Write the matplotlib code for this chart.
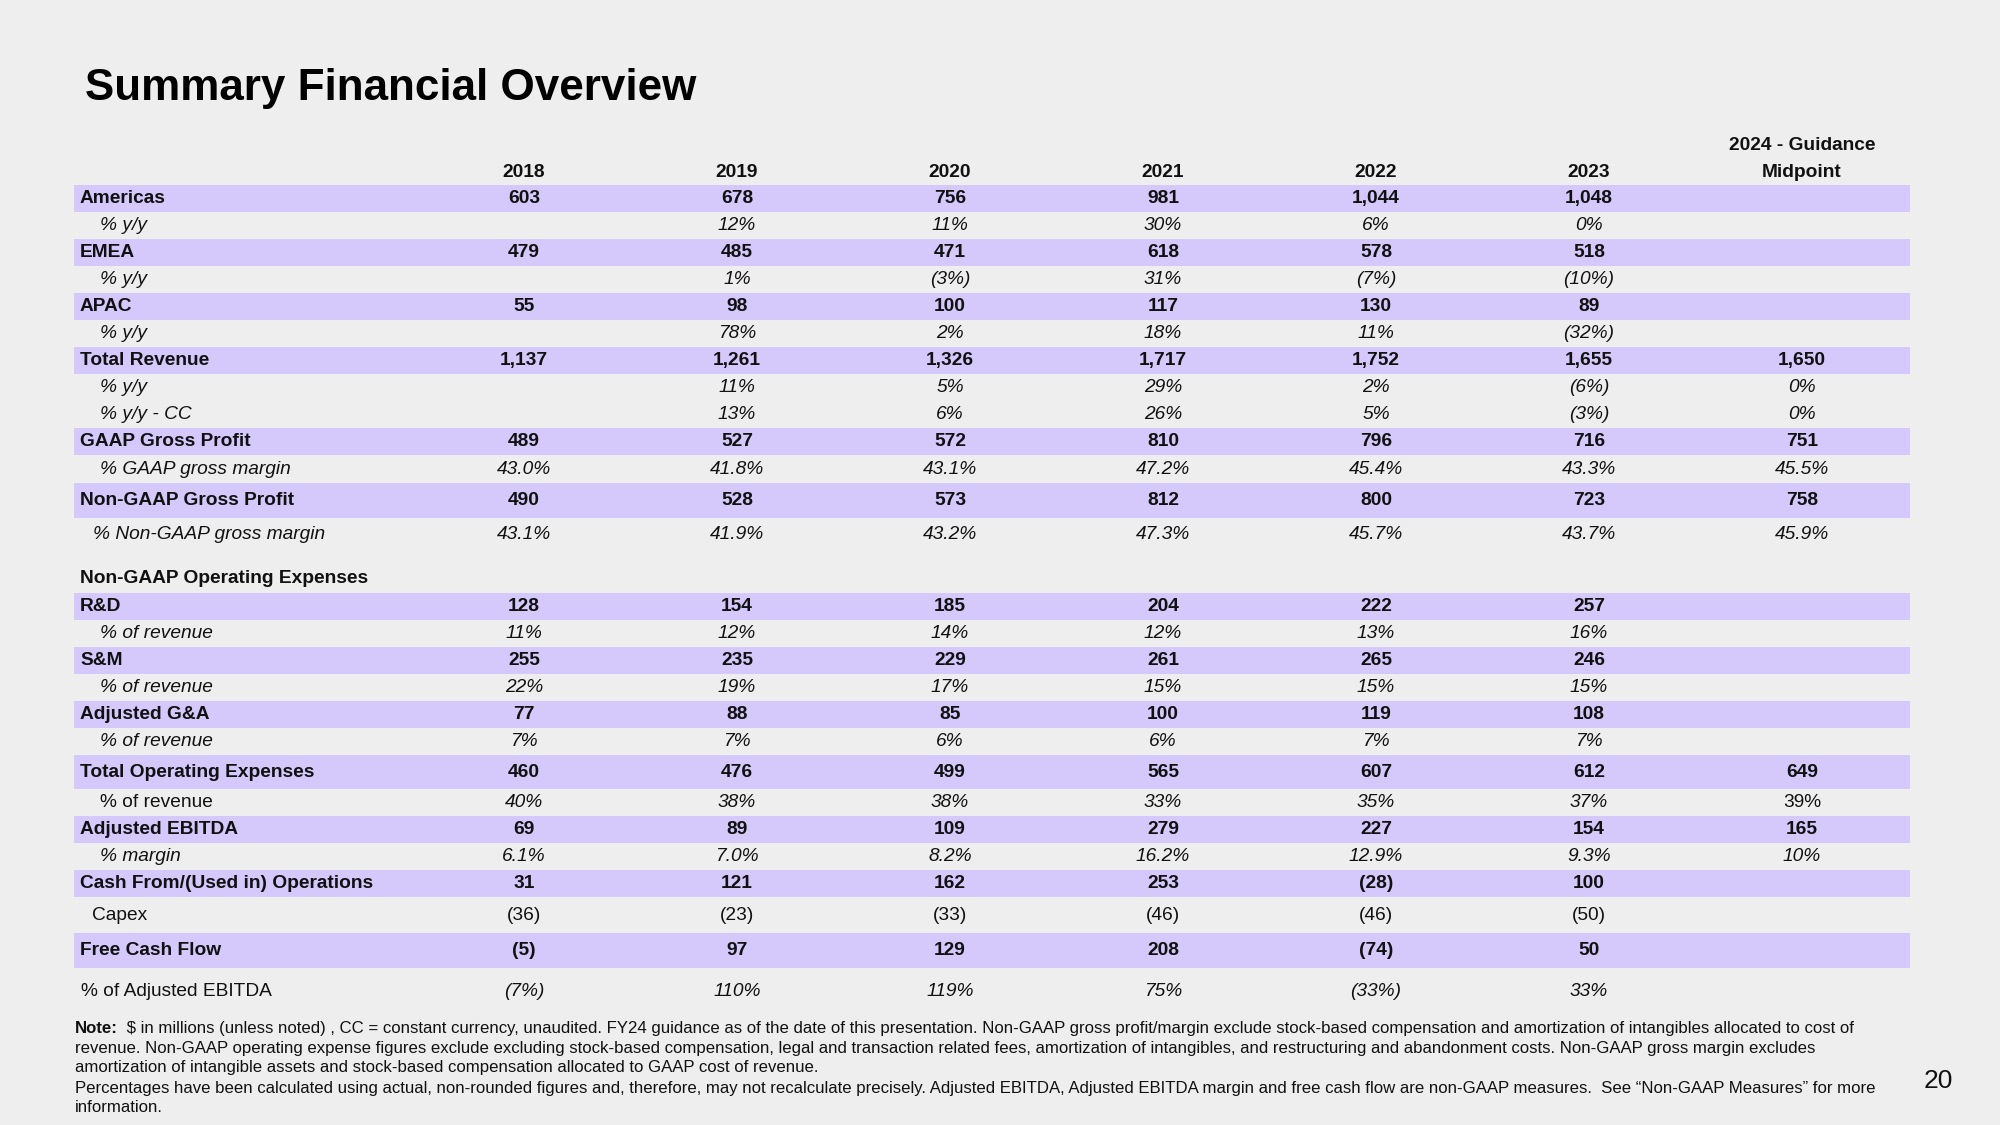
import matplotlib
matplotlib.use("Agg")
import matplotlib.pyplot as plt
from matplotlib.patches import Rectangle

plt.rcParams['font.family'] = ['Liberation Sans', 'DejaVu Sans']

# Column headers
years = ["2018", "2019", "2020", "2021", "2022", "2023"]
guidance_header = ["2024 - Guidance", "Midpoint"]

# Row values: 2018..2023, then 2024 guidance midpoint ("" = blank)
americas = ["603", "678", "756", "981", "1,044", "1,048", ""]
americas_yy = ["", "12%", "11%", "30%", "6%", "0%", ""]
emea = ["479", "485", "471", "618", "578", "518", ""]
emea_yy = ["", "1%", "(3%)", "31%", "(7%)", "(10%)", ""]
apac = ["55", "98", "100", "117", "130", "89", ""]
apac_yy = ["", "78%", "2%", "18%", "11%", "(32%)", ""]
total_revenue = ["1,137", "1,261", "1,326", "1,717", "1,752", "1,655", "1,650"]
revenue_yy = ["", "11%", "5%", "29%", "2%", "(6%)", "0%"]
revenue_yy_cc = ["", "13%", "6%", "26%", "5%", "(3%)", "0%"]
gaap_gp = ["489", "527", "572", "810", "796", "716", "751"]
gaap_gm = ["43.0%", "41.8%", "43.1%", "47.2%", "45.4%", "43.3%", "45.5%"]
nongaap_gp = ["490", "528", "573", "812", "800", "723", "758"]
nongaap_gm = ["43.1%", "41.9%", "43.2%", "47.3%", "45.7%", "43.7%", "45.9%"]
rnd = ["128", "154", "185", "204", "222", "257", ""]
rnd_pct = ["11%", "12%", "14%", "12%", "13%", "16%", ""]
snm = ["255", "235", "229", "261", "265", "246", ""]
snm_pct = ["22%", "19%", "17%", "15%", "15%", "15%", ""]
gna = ["77", "88", "85", "100", "119", "108", ""]
gna_pct = ["7%", "7%", "6%", "6%", "7%", "7%", ""]
total_opex = ["460", "476", "499", "565", "607", "612", "649"]
opex_pct = ["40%", "38%", "38%", "33%", "35%", "37%", "39%"]
adj_ebitda = ["69", "89", "109", "279", "227", "154", "165"]
ebitda_margin = ["6.1%", "7.0%", "8.2%", "16.2%", "12.9%", "9.3%", "10%"]
cfo = ["31", "121", "162", "253", "(28)", "100", ""]
capex = ["(36)", "(23)", "(33)", "(46)", "(46)", "(50)", ""]
fcf = ["(5)", "97", "129", "208", "(74)", "50", ""]
fcf_pct = ["(7%)", "110%", "119%", "75%", "(33%)", "33%", ""]
blank = [""] * 7

# (label, values, kind)
rows = [
    ("Americas", americas, "main"),
    ("% y/y", americas_yy, "sub"),
    ("EMEA", emea, "main"),
    ("% y/y", emea_yy, "sub"),
    ("APAC", apac, "main"),
    ("% y/y", apac_yy, "sub"),
    ("Total Revenue", total_revenue, "main"),
    ("% y/y", revenue_yy, "sub"),
    ("% y/y - CC", revenue_yy_cc, "sub"),
    ("GAAP Gross Profit", gaap_gp, "main"),
    ("% GAAP gross margin", gaap_gm, "sub"),
    ("Non-GAAP Gross Profit", nongaap_gp, "main"),
    ("% Non-GAAP gross margin", nongaap_gm, "sub2"),
    ("", blank, "gap"),
    ("Non-GAAP Operating Expenses", blank, "head"),
    ("R&D", rnd, "main"),
    ("% of revenue", rnd_pct, "sub"),
    ("S&M", snm, "main"),
    ("% of revenue", snm_pct, "sub"),
    ("Adjusted G&A", gna, "main"),
    ("% of revenue", gna_pct, "sub"),
    ("Total Operating Expenses", total_opex, "main"),
    ("% of revenue", opex_pct, "opexpct"),
    ("Adjusted EBITDA", adj_ebitda, "main"),
    ("% margin", ebitda_margin, "sub"),
    ("Cash From/(Used in) Operations", cfo, "main"),
    ("Capex", capex, "capex"),
    ("Free Cash Flow", fcf, "main"),
    ("% of Adjusted EBITDA", fcf_pct, "fcfpct"),
]

# layout (pixels on a 2000x1125 canvas)
row_heights = [27] * 10 + [28, 35, 32, 13, 30] + [27] * 6 + [34, 27, 27, 27, 27, 36, 35, 46]
table_top = 185
band_left, band_right = 74, 1910
col_x = [524 + 213 * i for i in range(7)]
band_color = '#d5c9fb'
bg_color = '#eeeeee'
txt_color = '#111111'
fs = 13.8

# kind -> (band, label x, label style, value style)
kinds = {
    "main": (True, 80, "bold", "bold"),
    "sub": (False, 100, "italic", "italic"),
    "sub2": (False, 93, "italic", "italic"),
    "head": (False, 80, "bold", "bold"),
    "gap": (False, 80, "normal", "normal"),
    "opexpct": (False, 100, "normal", "italic"),
    "capex": (False, 92, "normal", "normal"),
    "fcfpct": (False, 81, "normal", "italic"),
}


def style(s):
    if s == "bold":
        return dict(fontweight='bold', fontstyle='normal')
    if s == "italic":
        return dict(fontweight='normal', fontstyle='italic')
    return dict(fontweight='normal', fontstyle='normal')


fig = plt.figure(figsize=(20, 11.25), dpi=100, facecolor=bg_color)
ax = fig.add_axes([0, 0, 1, 1])
ax.set_xlim(0, 2000)
ax.set_ylim(1125, 0)
ax.axis('off')

cap = fs * 100 / 72 * 0.72 / 2  # half cap height in px, to centre on the caps

# title
ax.text(85, 100, "Summary Financial Overview", fontsize=31.7, fontweight='bold',
        color='black', va='baseline', ha='left')

# header
for x, y in zip(col_x, years):
    ax.text(x, 170 + cap, y, fontsize=fs, fontweight='bold', color=txt_color,
            ha='center', va='baseline')
ax.text(col_x[6], 143 + cap, guidance_header[0], fontsize=fs, fontweight='bold',
        color=txt_color, ha='center', va='baseline')
ax.text(col_x[6], 170 + cap, guidance_header[1], fontsize=fs, fontweight='bold',
        color=txt_color, ha='center', va='baseline')

# table body
top = table_top
for (label, vals, kind), h in zip(rows, row_heights):
    band, lx, lstyle, vstyle = kinds[kind]
    yc = top + h / 2 - 2
    if band:
        ax.add_patch(Rectangle((band_left, top), band_right - band_left, h,
                               facecolor=band_color, edgecolor='none'))
    ax.text(lx, yc + cap, label, fontsize=fs, color=txt_color, ha='left',
            va='baseline', **style(lstyle))
    for i, (x, v) in enumerate(zip(col_x, vals)):
        vs = vstyle
        if kind == "opexpct" and i == 6:
            vs = "normal"
        ax.text(x, yc + cap, v, fontsize=fs, color=txt_color, ha='center',
                va='baseline', **style(vs))
    top += h

# footnote
note_lines = [
    " $ in millions (unless noted) , CC = constant currency, unaudited. FY24 guidance as of the date of this presentation. Non-GAAP gross profit/margin exclude stock-based compensation and amortization of intangibles allocated to cost of",
    "revenue. Non-GAAP operating expense figures exclude excluding stock-based compensation, legal and transaction related fees, amortization of intangibles, and restructuring and abandonment costs. Non-GAAP gross margin excludes",
    "amortization of intangible assets and stock-based compensation allocated to GAAP cost of revenue.",
    "Percentages have been calculated using actual, non-rounded figures and, therefore, may not recalculate precisely. Adjusted EBITDA, Adjusted EBITDA margin and free cash flow are non-GAAP measures.  See \u201cNon-GAAP Measures\u201d for more",
    "information.",
]
note_y = [1027, 1047, 1066, 1087, 1106]
nfs = 12.1
ncap = nfs * 100 / 72 * 0.72 / 2
renderer = fig.canvas.get_renderer()
lead = ax.text(75, note_y[0] + ncap, "Note:", fontsize=nfs, fontweight='bold',
               color=txt_color, va='baseline', ha='left')
bb = lead.get_window_extent(renderer)
for i, (line, y) in enumerate(zip(note_lines, note_y)):
    x = 75 + bb.width + 4 if i == 0 else 75
    ax.text(x, y + ncap, line, fontsize=nfs, color=txt_color, va='baseline', ha='left')

# page number
ax.text(1938, 1088, "20", fontsize=19, color=txt_color, ha='center', va='baseline')

fig.savefig("out.png", dpi=100, facecolor=bg_color)
